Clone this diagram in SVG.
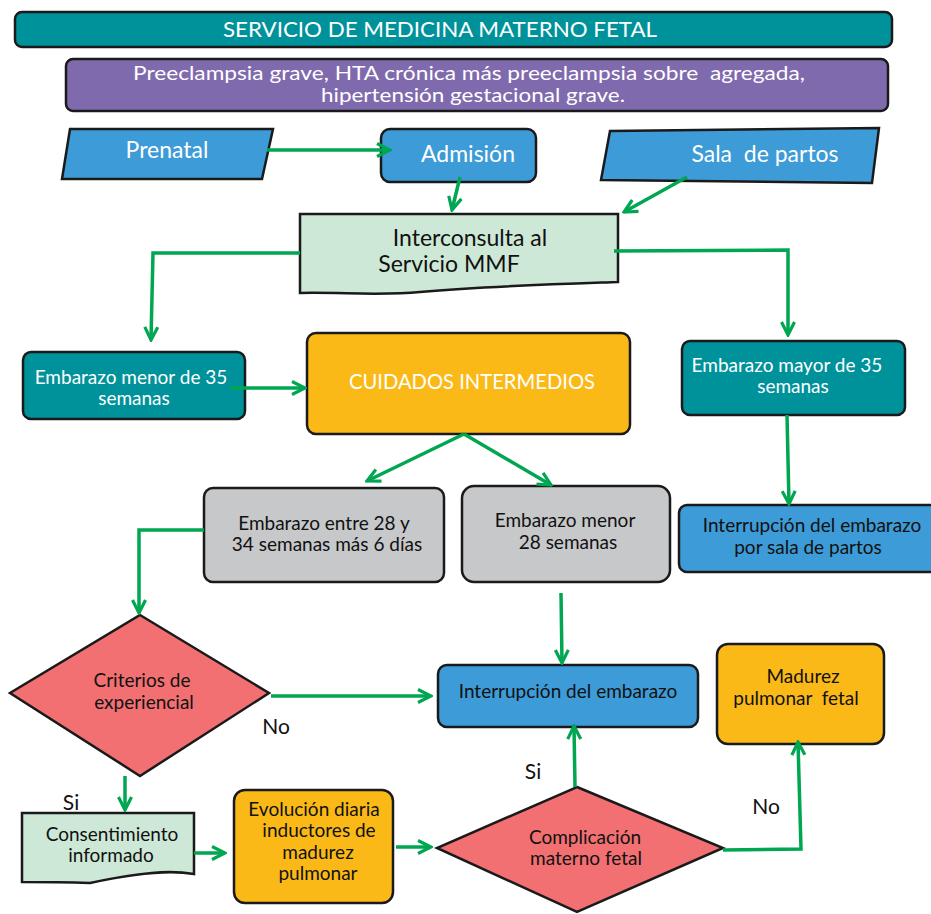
<svg xmlns="http://www.w3.org/2000/svg" width="931" height="914" viewBox="0 0 931 914">
<style>
.n{stroke:#1a1a1a;stroke-width:2.5}
.teal{fill:#00929b}
.blue{fill:#3d9bd7}
.gray{fill:#c7c8ca}
.org{fill:#fbb917}
.red{fill:#f27072}
.lg{fill:#cde8d6}
.pur{fill:#806aae}
text{font-family:Lato,"Open Sans",sans-serif;text-anchor:middle;font-size:19px}
.w{fill:#fff}
.k{fill:#111}
.c{fill:none;stroke:#00a651;stroke-width:3.5}
</style>
<defs>
<marker id="ah" viewBox="0 0 16 16" refX="14" refY="8" markerWidth="16" markerHeight="16" markerUnits="userSpaceOnUse" orient="auto">
<path d="M1,1.5 L14,8 L1,14.5" fill="none" stroke="#00a651" stroke-width="3.2"/>
</marker>
</defs>
<g id="header">
<rect class="n teal" x="15" y="12" width="877" height="35" rx="7"/>
<text class="w" x="440" y="37" style="font-size:21px" textLength="434" lengthAdjust="spacingAndGlyphs">SERVICIO DE MEDICINA MATERNO FETAL</text>
</g>
<g id="indicaciones">
<rect class="n pur" x="66" y="59" width="822" height="52" rx="7"/>
<text class="w" x="469" y="80" style="font-size:19px" textLength="672" lengthAdjust="spacingAndGlyphs" xml:space="preserve">Preeclampsia grave, HTA crónica más preeclampsia sobre  agregada,</text>
<text class="w" x="473" y="102" style="font-size:19px" textLength="304" lengthAdjust="spacingAndGlyphs">hipertensión gestacional grave.</text>
</g>
<g id="prenatal">
<polygon class="n blue" points="70,129 273,129 262,179 62,179"/>
<text class="w" x="167" y="158" style="font-size:23px">Prenatal</text>
</g>
<g id="admision">
<rect class="n blue" x="381" y="129" width="155" height="53" rx="9"/>
<text class="w" x="468" y="162" style="font-size:23px">Admisión</text>
</g>
<g id="sala">
<polygon class="n blue" points="610,131 879,128 872,183 601,180"/>
<text class="w" x="765" y="162" style="font-size:23px" xml:space="preserve">Sala  de partos</text>
</g>
<g id="interconsulta">
<path class="n lg" d="M300,214 L618,214 L618,282 C560,284 490,286 420,292 C380,296 340,292 300,293 Z"/>
<text class="k" x="470" y="246" style="font-size:23px">Interconsulta al</text>
<text class="k" x="449" y="272" style="font-size:23px">Servicio MMF</text>
</g>
<g id="menor35">
<rect class="n teal" x="23" y="352" width="222" height="67" rx="8"/>
<text class="w" x="131" y="384">Embarazo menor de 35</text>
<text class="w" x="134" y="405">semanas</text>
</g>
<g id="cuidados">
<rect class="n org" x="307" y="333" width="323" height="101" rx="9"/>
<text class="w" x="472" y="389" style="font-size:21px" textLength="246" lengthAdjust="spacingAndGlyphs">CUIDADOS INTERMEDIOS</text>
</g>
<g id="mayor35">
<rect class="n teal" x="682" y="341" width="223" height="74" rx="8"/>
<text class="w" x="787" y="372">Embarazo mayor de 35</text>
<text class="w" x="793" y="393">semanas</text>
</g>
<g id="entre28">
<rect class="n gray" x="204" y="488" width="240" height="94" rx="9"/>
<text class="k" x="324" y="530">Embarazo entre 28 y</text>
<text class="k" x="327" y="551">34 semanas más 6 días</text>
</g>
<g id="menor28">
<rect class="n gray" x="462" y="486" width="208" height="96" rx="12"/>
<text class="k" x="565" y="527">Embarazo menor</text>
<text class="k" x="568" y="549">28 semanas</text>
</g>
<g id="interrupcionSala">
<rect class="n blue" x="679" y="505" width="262" height="67" rx="8"/>
<text class="k" x="812" y="532">Interrupción del embarazo</text>
<text class="k" x="808" y="554">por sala de partos</text>
</g>
<g id="criterios">
<polygon class="n red" points="140,615 269,693 140,776 10,693"/>
<text class="k" x="142" y="687">Criterios de</text>
<text class="k" x="144" y="709">experiencial</text>
</g>
<g id="interrupcion">
<rect class="n blue" x="438" y="665" width="260" height="62" rx="9"/>
<text class="k" x="568" y="698">Interrupción del embarazo</text>
</g>
<g id="madurez">
<rect class="n org" x="717" y="644" width="167" height="100" rx="11"/>
<text class="k" x="803" y="683">Madurez</text>
<text class="k" x="796" y="705" xml:space="preserve">pulmonar  fetal</text>
</g>
<g id="consentimiento">
<path class="n lg" d="M22,813 L194,813 L194,874 C170,870 140,872 90,883 C60,882 40,882 22,882 Z"/>
<text class="k" x="112" y="841">Consentimiento</text>
<text class="k" x="111" y="862">informado</text>
</g>
<g id="evolucion">
<rect class="n org" x="234" y="790" width="159" height="113" rx="11"/>
<text class="k" x="314" y="816">Evolución diaria</text>
<text class="k" x="319" y="837">inductores de</text>
<text class="k" x="318" y="859">madurez</text>
<text class="k" x="318" y="880">pulmonar</text>
</g>
<g id="complicacion">
<polygon class="n red" points="577,787 723,848 577,912 437,848"/>
<text class="k" x="585" y="844">Complicación</text>
<text class="k" x="586" y="865">materno fetal</text>
</g>
<g id="connectors">
<line class="c" x1="267" y1="150" x2="390" y2="150" marker-end="url(#ah)"/>
<line class="c" x1="460" y1="177" x2="452" y2="210" marker-end="url(#ah)"/>
<line class="c" x1="687" y1="177" x2="624" y2="212" marker-end="url(#ah)"/>
<polyline class="c" points="300,253 153,253 151,340" marker-end="url(#ah)"/>
<polyline class="c" points="614,251 788,250 788,335" marker-end="url(#ah)"/>
<line class="c" x1="230" y1="388" x2="305" y2="388" marker-end="url(#ah)"/>
<line class="c" x1="464" y1="434" x2="367" y2="481" marker-end="url(#ah)"/>
<line class="c" x1="464" y1="434" x2="551" y2="485" marker-end="url(#ah)"/>
<line class="c" x1="787" y1="415" x2="789" y2="504" marker-end="url(#ah)"/>
<polyline class="c" points="204,530 139,530 139,613" marker-end="url(#ah)"/>
<line class="c" x1="271" y1="696" x2="431" y2="696" marker-end="url(#ah)"/>
<line class="c" x1="561" y1="593" x2="562" y2="663" marker-end="url(#ah)"/>
<line class="c" x1="125" y1="776" x2="125" y2="810" marker-end="url(#ah)"/>
<line class="c" x1="194" y1="853" x2="225" y2="853" marker-end="url(#ah)"/>
<line class="c" x1="396" y1="847" x2="431" y2="847" marker-end="url(#ah)"/>
<line class="c" x1="575" y1="787" x2="574" y2="726" marker-end="url(#ah)"/>
<polyline class="c" points="723,850 801,849 798,742" marker-end="url(#ah)"/>
<text class="k" x="276" y="734" style="font-size:21px">No</text>
<text class="k" x="71" y="810" style="font-size:21px">Si</text>
<text class="k" x="533" y="779" style="font-size:21px">Si</text>
<text class="k" x="766" y="814" style="font-size:21px">No</text>
</g>
</svg>
